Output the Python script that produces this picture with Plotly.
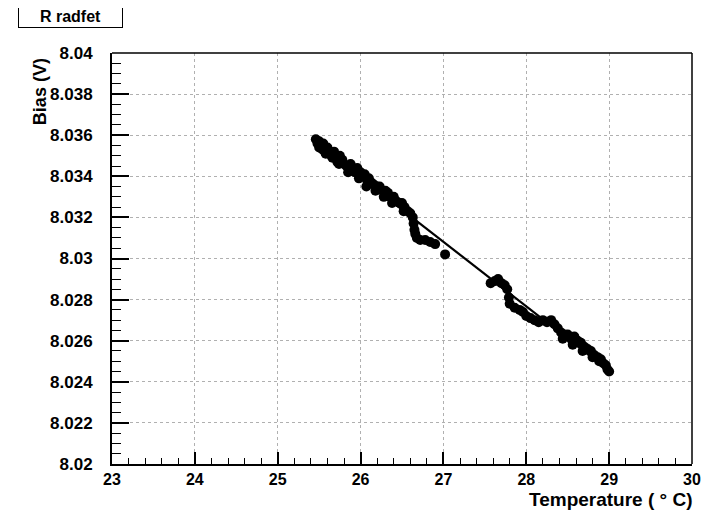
import numpy as np
import plotly.graph_objects as go

# ---- data ----
temperature = [
    25.46, 25.48, 25.50, 25.50, 25.52, 25.54, 25.55, 25.57, 25.60, 25.62,
    25.65, 25.68, 25.70, 25.72, 25.75, 25.78, 25.80, 25.83, 25.86, 25.88,
    25.90, 25.93, 25.96, 26.00, 26.02, 26.05, 26.08, 26.10, 26.13, 26.16,
    26.20, 26.23, 26.27, 26.30, 26.33, 26.36, 26.40, 26.43, 26.47, 26.50,
    26.53, 26.57, 26.60, 26.63, 26.64, 26.65, 26.66, 26.68, 26.72, 26.78,
    26.84, 26.90, 27.02,
    25.58, 25.66, 25.74, 25.85, 25.98, 26.07, 26.18, 26.28, 26.38, 26.52,
    27.57, 27.62, 27.66, 27.70, 27.74, 27.77, 27.79, 27.80, 27.86, 27.92,
    27.96, 28.00, 28.05, 28.10, 28.15, 28.20, 28.25, 28.30, 28.34, 28.38,
    28.42, 28.46, 28.50, 28.54, 28.58, 28.62, 28.66, 28.70, 28.74, 28.78,
    28.82, 28.86, 28.90, 28.93, 28.96, 28.98, 29.00,
    28.44, 28.56, 28.68, 28.80, 28.88,
]
bias = [
    8.0358, 8.0356, 8.0357, 8.0354, 8.0355, 8.0353, 8.0356, 8.0352, 8.0354, 8.0351,
    8.0350, 8.0352, 8.0349, 8.0347, 8.0350, 8.0348, 8.0346, 8.0345, 8.0344, 8.0346,
    8.0343, 8.0342, 8.0344, 8.0342, 8.0340, 8.0341, 8.0338, 8.0339, 8.0337, 8.0336,
    8.0335, 8.0335, 8.0333, 8.0333, 8.0332, 8.0330, 8.0330, 8.0328, 8.0327, 8.0327,
    8.0325, 8.0323, 8.0322, 8.0320, 8.0317, 8.0314, 8.0312, 8.0310, 8.0309, 8.0309,
    8.0308, 8.0307, 8.0302,
    8.0351, 8.0349, 8.0346, 8.0342, 8.0339, 8.0335, 8.0333, 8.0330, 8.0327, 8.0323,
    8.0288, 8.0289, 8.0290, 8.0288, 8.0287, 8.0285, 8.0281, 8.0278, 8.0276, 8.0275,
    8.0274, 8.0272, 8.0271, 8.0270, 8.0269, 8.0270, 8.0269, 8.0270, 8.0268, 8.0266,
    8.0264, 8.0263, 8.0263, 8.0261, 8.0262, 8.0260, 8.0259, 8.0257, 8.0256, 8.0255,
    8.0253, 8.0252, 8.0251, 8.0249, 8.0248, 8.0246, 8.0245,
    8.0261, 8.0258, 8.0255, 8.0252, 8.0250,
]
x_ticks = [23, 24, 25, 26, 27, 28, 29, 30]
y_ticks = [8.02, 8.022, 8.024, 8.026, 8.028, 8.03, 8.032, 8.034, 8.036, 8.038, 8.04]
y_tick_labels = ["8.02", "8.022", "8.024", "8.026", "8.028", "8.03",
                 "8.032", "8.034", "8.036", "8.038", "8.04"]

# linear fit of the data
slope, intercept = np.polyfit(temperature, bias, 1)
fit_x = [min(temperature), max(temperature)]
fit_y = [slope * t + intercept for t in fit_x]

FONT = "Liberation Sans, Arial, Helvetica, sans-serif"

fig = go.Figure()
fig.add_trace(go.Scatter(
    x=fit_x, y=fit_y, mode="lines",
    line=dict(color="black", width=2.2), showlegend=False, hoverinfo="skip"))
fig.add_trace(go.Scatter(
    x=temperature, y=bias, mode="markers",
    marker=dict(color="black", size=10, line=dict(width=0)), showlegend=False))

fig.update_layout(
    width=701, height=502,
    margin=dict(l=104, r=17, t=45, b=46, autoexpand=False),
    paper_bgcolor="white", plot_bgcolor="white",
    font=dict(family=FONT, color="black"),
    xaxis=dict(
        range=[23, 30], tickvals=x_ticks, ticktext=[str(v) for v in x_ticks],
        ticks="inside", ticklen=12, tickwidth=1.5, tickcolor="black",
        minor=dict(dtick=0.2, ticks="inside", ticklen=6, tickwidth=1, tickcolor="black", showgrid=False),
        showgrid=True, gridcolor="#b0b0b0", griddash="dot", gridwidth=1,
        showline=True, linecolor="black", linewidth=2, mirror=False,
        zeroline=False, automargin=False,
        tickfont=dict(family=FONT, size=16, weight="bold", color="black"),
        ticklabelstandoff=0,
    ),
    yaxis=dict(
        range=[8.02, 8.04], tickvals=y_ticks, ticktext=y_tick_labels,
        ticks="inside", ticklen=17, tickwidth=1.5, tickcolor="black",
        minor=dict(dtick=0.0005, ticks="inside", ticklen=9, tickwidth=1, tickcolor="black", showgrid=False),
        showgrid=True, gridcolor="#b0b0b0", griddash="dot", gridwidth=1,
        showline=True, linecolor="black", linewidth=2, mirror=False,
        zeroline=False, automargin=False,
        tickfont=dict(family=FONT, size=17, weight="bold", color="black"),
        ticklabelstandoff=14,
    ),
    shapes=[
        dict(type="line", xref="paper", yref="paper", x0=0, x1=1, y0=1, y1=1,
             line=dict(color="black", width=1.5)),
        dict(type="line", xref="paper", yref="paper", x0=1, x1=1, y0=0, y1=1,
             line=dict(color="black", width=1.5)),
    ],
    annotations=[
        dict(text="<b>R radfet</b>", xref="paper", yref="paper",
             x=-0.162, y=1.119, xanchor="left", yanchor="top",
             showarrow=False, font=dict(family=FONT, size=16, color="black"),
             bordercolor="black", borderwidth=1, borderpad=2,
             width=99, height=18, align="center", bgcolor="white"),
        dict(text="<b>Bias (V)</b>", xref="paper", yref="paper",
             x=-0.124, y=0.905, xanchor="center", yanchor="middle",
             textangle=-90, showarrow=False,
             font=dict(family=FONT, size=18, color="black")),
        dict(text="<b>Temperature ( ° C)</b>", xref="paper", yref="paper",
             x=1.005, y=-0.087, xanchor="right", yanchor="middle",
             showarrow=False, font=dict(family=FONT, size=19, color="black")),
    ],
)

fig.write_html("out.html")
